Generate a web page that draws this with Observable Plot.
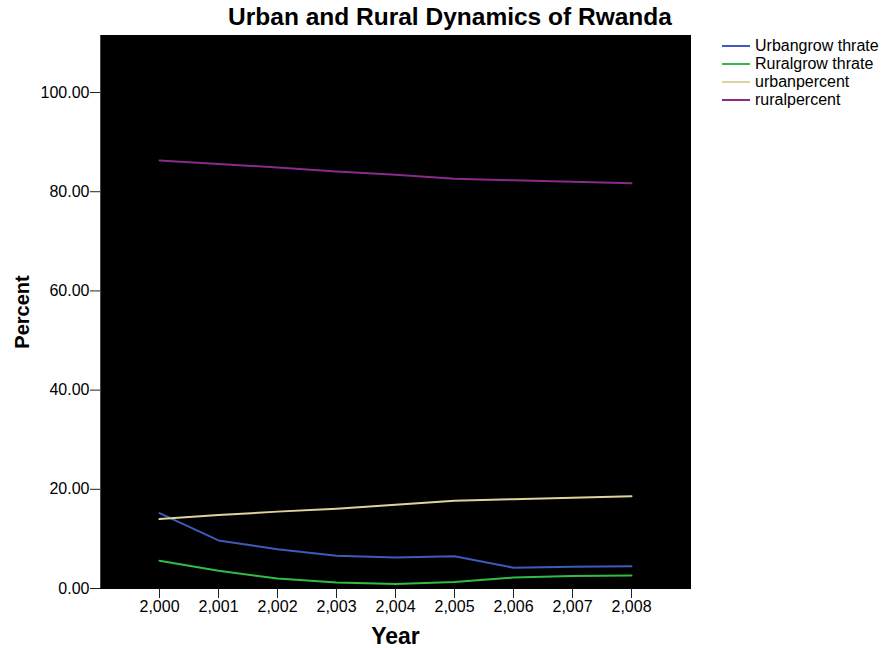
<!DOCTYPE html>
<html>
<head>
<meta charset="utf-8">
<script src="https://cdn.jsdelivr.net/npm/d3@7"></script>
<script src="https://cdn.jsdelivr.net/npm/@observablehq/plot@0.6"></script>
<style>
  body { margin: 0; background: #fff; font-family: "Liberation Sans", Arial, sans-serif; }
  #wrap { position: relative; width: 881px; height: 648px; }
  #title { position: absolute; left: 0px; width: 900px; top: 3px; text-align: center;
           font-weight: bold; font-size: 24.5px; color: #000; }
  #chart { position: absolute; left: 0; top: 35px; }
  #legend { position: absolute; left: 722px; top: 37px; font-size: 16px; color: #000; }
  .row { display: flex; align-items: center; height: 18px; white-space: nowrap; }
  .sw { width: 28px; height: 0; border-top: 2px solid; margin-right: 5px; }
</style>
</head>
<body>
<div id="wrap">
  <div id="title">Urban and Rural Dynamics of Rwanda</div>
  <div id="chart"></div>
  <div id="legend"></div>
</div>
<script>
const years = [2000, 2001, 2002, 2003, 2004, 2005, 2006, 2007, 2008];
const urbanGrowthRate = [15.2, 9.7, 7.9, 6.6, 6.25, 6.5, 4.2, 4.4, 4.5];
const ruralGrowthRate = [5.6, 3.6, 2.0, 1.2, 0.9, 1.3, 2.2, 2.5, 2.6];
const urbanPercent = [14.0, 14.8, 15.5, 16.1, 16.9, 17.7, 18.0, 18.3, 18.6];
const ruralPercent = [86.3, 85.6, 84.9, 84.1, 83.4, 82.6, 82.3, 82.0, 81.7];
const seriesNames = ["Urbangrow thrate", "Ruralgrow thrate", "urbanpercent", "ruralpercent"];
const seriesColors = ["#3d5bbd", "#2fbd46", "#ddd49c", "#8b2a8b"];
const yTicks = [0, 20, 40, 60, 80, 100];

const seriesValues = [urbanGrowthRate, ruralGrowthRate, urbanPercent, ruralPercent];
const data = [];
seriesNames.forEach((name, i) => {
  years.forEach((yr, j) => data.push({series: name, year: yr, value: seriesValues[i][j]}));
});

const chart = Plot.plot({
  width: 881,
  height: 613,
  marginTop: 0,
  marginLeft: 100,
  marginRight: 191,
  marginBottom: 60,
  style: { fontFamily: "'Liberation Sans', Arial, sans-serif", fontSize: "16px", color: "#000", background: "transparent" },
  x: { domain: [1999, 2009], ticks: years, tickFormat: d3.format(","), tickSize: 10, tickPadding: 2, label: null },
  y: { domain: [0, 111.5], ticks: yTicks, tickFormat: d3.format(".2f"), tickSize: 10, tickPadding: 1, label: null },
  color: { domain: seriesNames, range: seriesColors },
  marks: [
    Plot.frame({ fill: "#000", stroke: "#000" }),
    Plot.line(data, { x: "year", y: "value", z: "series", stroke: "series", strokeWidth: 2 }),
    Plot.axisX({ ticks: years, tickFormat: d3.format(","), tickSize: 10, tickPadding: 2, label: null, stroke: "#222" }),
    Plot.axisY({ ticks: yTicks, tickFormat: d3.format(".2f"), tickSize: 10, tickPadding: 1, label: null, stroke: "#222" }),
    Plot.ruleX([1999], { stroke: "#444" }),
    Plot.text(["Year"], { frameAnchor: "bottom", lineAnchor: "middle", dy: 48, fontSize: 23, fontWeight: "bold", fill: "#000" }),
    Plot.text(["Percent"], { frameAnchor: "left", textAnchor: "middle", dx: -78, rotate: -90, fontSize: 20, fontWeight: "bold", fill: "#000" })
  ]
});
document.getElementById("chart").appendChild(chart);

const legend = document.getElementById("legend");
seriesNames.forEach((name, i) => {
  const row = document.createElement("div");
  row.className = "row";
  const sw = document.createElement("span");
  sw.className = "sw";
  sw.style.borderTopColor = seriesColors[i];
  const lab = document.createElement("span");
  lab.textContent = name;
  row.appendChild(sw);
  row.appendChild(lab);
  legend.appendChild(row);
});
</script>
</body>
</html>
